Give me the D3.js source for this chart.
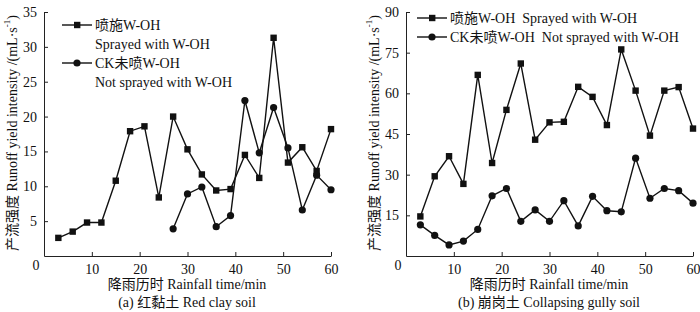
<!DOCTYPE html>
<html>
<head>
<meta charset="utf-8">
<script src="https://cdn.jsdelivr.net/npm/d3@7"></script>
<style>
  body { margin: 0; background: #fff; }
  svg text { font-family: "Liberation Serif", "Noto Sans CJK SC", serif; fill: #111; white-space: pre; }
</style>
</head>
<body>
<div id="chart"></div>
<script>
// rainfall time (min)
const times = [3, 6, 9, 12, 15, 18, 21, 24, 27, 30, 33, 36, 39, 42, 45, 48, 51, 54, 57, 60]

// (a) red clay soil
const redSprayed = [2.6, 3.5, 4.8, 4.8, 10.8, 17.9, 18.6, 8.4, 20.0, 15.3, 11.7, 9.4, 9.6, 14.5, 11.2, 31.3, 13.4, 15.6, 12.2, 18.2]
const redTimesCK = [27, 30, 33, 36, 39, 42, 45, 48, 51, 54, 57, 60]
const redCK = [3.9, 8.9, 9.9, 4.2, 5.8, 22.3, 14.8, 21.3, 15.5, 6.6, 11.6, 9.5]

// (b) collapsing gully soil
const gullySprayed = [14.6, 29.4, 36.8, 26.6, 66.8, 34.3, 53.9, 71.0, 42.9, 49.3, 49.5, 62.4, 58.7, 48.3, 76.2, 61.0, 44.4, 61.0, 62.3, 47.0]
const gullyCK = [11.5, 7.6, 4.1, 5.5, 9.8, 22.2, 24.9, 12.8, 17.0, 12.8, 20.4, 11.1, 22.0, 16.7, 16.3, 36.1, 21.3, 24.9, 24.1, 19.5]

const xTicks = [10, 20, 30, 40, 50, 60]
const redYTicks = [5, 10, 15, 20, 25, 30, 35]
const gullyYTicks = [15, 30, 45, 60, 75, 90]

const svg = d3.select('#chart').append('svg')
    .attr('width', 700)
    .attr('height', 312)

function drawPanel(opt) {
    const x = d3.scaleLinear().domain([0, 60]).range([opt.left, opt.left + 287])
    const y = d3.scaleLinear().domain([0, opt.yMax]).range([256, 12])
    const g = svg.append('g')

    // axes, ticks pointing inward
    g.append('g')
        .attr('transform', 'translate(0,256)')
        .call(d3.axisBottom(x).tickValues(xTicks).tickSize(-4).tickSizeOuter(0).tickPadding(8))
    g.append('g')
        .attr('transform', `translate(${opt.left},0)`)
        .call(d3.axisLeft(y).tickValues(opt.yTicks).tickSize(-4).tickSizeOuter(0).tickPadding(7))
    g.selectAll('.domain, .tick line').attr('stroke', '#222').attr('stroke-width', 1)
    g.selectAll('.tick text').attr('font-size', 14).attr('font-family', '"Liberation Serif", serif').attr('fill', '#111')

    // shared origin label
    g.append('text')
        .attr('x', opt.left - 8).attr('y', 270)
        .attr('text-anchor', 'middle')
        .attr('font-size', 14)
        .text('0')

    const line = d3.line().x(d => x(d[0])).y(d => y(d[1]))

    opt.series.forEach(s => {
        const pts = s.t.map((t, i) => [t, s.v[i]])
        g.append('path')
            .datum(pts)
            .attr('d', line)
            .attr('fill', 'none')
            .attr('stroke', '#111')
            .attr('stroke-width', 1.4)
        if (s.shape === 'square') {
            g.selectAll(null).data(pts).enter().append('rect')
                .attr('x', d => x(d[0]) - 3.2)
                .attr('y', d => y(d[1]) - 3.2)
                .attr('width', 6.4).attr('height', 6.4)
                .attr('fill', '#111')
        } else {
            g.selectAll(null).data(pts).enter().append('circle')
                .attr('cx', d => x(d[0]))
                .attr('cy', d => y(d[1]))
                .attr('r', 3.6)
                .attr('fill', '#111')
        }
    })

    // legend
    opt.legend.forEach(l => {
        if (l.shape) {
            g.append('line')
                .attr('x1', l.x).attr('x2', l.x + 30)
                .attr('y1', l.y).attr('y2', l.y)
                .attr('stroke', '#111').attr('stroke-width', 1.4)
            if (l.shape === 'square') {
                g.append('rect').attr('x', l.x + 12).attr('y', l.y - 3.2).attr('width', 6.4).attr('height', 6.4).attr('fill', '#111')
            } else {
                g.append('circle').attr('cx', l.x + 15).attr('cy', l.y).attr('r', 3.6).attr('fill', '#111')
            }
        }
        g.append('text')
            .attr('x', l.x + 33).attr('y', l.y)
            .attr('dominant-baseline', 'central')
            .attr('font-size', 14)
            .text(l.text)
    })

    // axis titles
    const cx = opt.left + 143
    g.append('text')
        .attr('x', cx).attr('y', 284)
        .attr('text-anchor', 'middle').attr('dominant-baseline', 'central')
        .attr('font-size', 14)
        .text('降雨历时 Rainfall time/min')
    g.append('text')
        .attr('x', cx).attr('y', 302)
        .attr('text-anchor', 'middle').attr('dominant-baseline', 'central')
        .attr('font-size', 14)
        .text(opt.caption)

    const yt = g.append('text')
        .attr('transform', `translate(${opt.left - 32},133) rotate(-90)`)
        .attr('text-anchor', 'middle').attr('dominant-baseline', 'central')
        .attr('font-size', 14)
    yt.append('tspan').text('产流强度 Runoff yield intensity /(mL·s')
    yt.append('tspan').attr('font-size', 9).attr('dy', -5).text('-1')
    yt.append('tspan').attr('dy', 5).text(')')
}

drawPanel({
    left: 44, yMax: 35, yTicks: redYTicks,
    caption: '(a) 红黏土 Red clay soil',
    series: [
        { t: times, v: redSprayed, shape: 'square' },
        { t: redTimesCK, v: redCK, shape: 'circle' }
    ],
    legend: [
        { x: 62, y: 25, shape: 'square', text: '喷施W-OH' },
        { x: 62, y: 44, text: 'Sprayed with W-OH' },
        { x: 62, y: 63, shape: 'circle', text: 'CK未喷W-OH' },
        { x: 62, y: 82, text: 'Not sprayed with W-OH' }
    ]
})

drawPanel({
    left: 406, yMax: 90, yTicks: gullyYTicks,
    caption: '(b) 崩岗土 Collapsing gully soil',
    series: [
        { t: times, v: gullySprayed, shape: 'square' },
        { t: times, v: gullyCK, shape: 'circle' }
    ],
    legend: [
        { x: 417, y: 18, shape: 'square', text: '喷施W-OH  Sprayed with W-OH' },
        { x: 417, y: 37, shape: 'circle', text: 'CK未喷W-OH  Not sprayed with W-OH' }
    ]
})
</script>
</body>
</html>
